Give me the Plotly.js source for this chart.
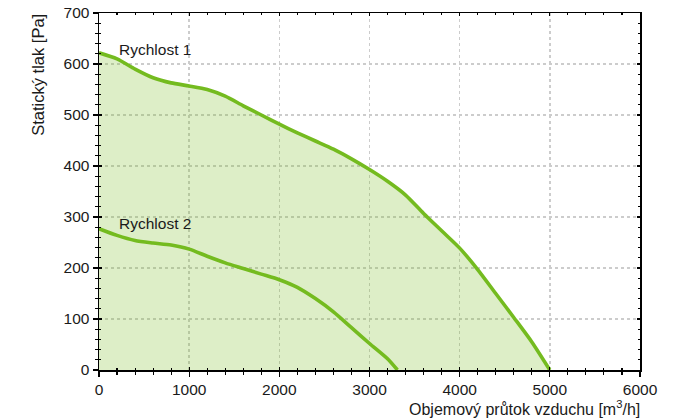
<!DOCTYPE html>
<html>
<head>
<meta charset="utf-8">
<script src="https://cdn.plot.ly/plotly-3.0.1.min.js"></script>
<style>body{margin:0;padding:0;background:#fff}#chart{width:684px;height:420px}</style>
</head>
<body>
<div id="chart"></div>
<script>
// Flow rate [m3/h]
const flow1 = [0,200,400,600,800,1000,1200,1400,1600,1800,2000,2200,2400,2600,2800,3000,3200,3400,3600,3800,4000,4200,4400,4600,4800,5000];
// Static pressure speed 1 [Pa]
const pressure1 = [622,610,590,573,563,557,550,537,518,500,482,465,449,433,414,393,370,343,307,273,239,197,150,103,55,0];
const flow2 = [0,200,400,600,800,1000,1200,1400,1600,1800,2000,2200,2400,2600,2800,3000,3200,3310];
// Static pressure speed 2 [Pa]
const pressure2 = [277,264,254,249,245,237,223,210,199,188,177,162,140,114,83,52,22,0];
const seriesNames = ["Rychlost 1","Rychlost 2"];
const xTicks = [0,1000,2000,3000,4000,5000,6000];
const yTicks = [0,100,200,300,400,500,600,700];

const lineColor = '#74bb1f';
const fontFam = 'Liberation Sans, Arial, sans-serif';
const txt = '#1a1a1a';

const traces = [
  {x: flow1, y: pressure1, type:'scatter', mode:'lines', name: seriesNames[0],
   line:{color: lineColor, width:3.6, shape:'spline', smoothing:0.7},
   fill:'tozeroy', fillcolor:'rgba(118,188,33,0.25)', hoverinfo:'skip'},
  {x: flow2, y: pressure2, type:'scatter', mode:'lines', name: seriesNames[1],
   line:{color: lineColor, width:3.6, shape:'spline', smoothing:0.7}, hoverinfo:'skip'}
];

const gridStyle = {showgrid:true, gridcolor:'#cccccc', gridwidth:1.5, griddash:'dot'};

const layout = {
  width:684, height:420,
  margin:{l:99, r:44, t:13, b:50},
  paper_bgcolor:'#fff', plot_bgcolor:'rgba(0,0,0,0)',
  showlegend:false,
  font:{family: fontFam, size:15, color: txt},
  xaxis: Object.assign({
    range:[0,6000], tickvals: xTicks, ticktext: xTicks.map(String),
    showline:true, linecolor:'#000', linewidth:1.5, mirror:false,
    ticks:'outside', ticklen:5, tickwidth:1.3, tickcolor:'#000',
    minor:{ticks:'outside', ticklen:3, tickwidth:1.1, tickcolor:'#000', dtick:200, tick0:0, showgrid:false},
    zeroline:false, tickfont:{size:15.5, color:txt, family:fontFam}, fixedrange:true
  }, gridStyle),
  yaxis: Object.assign({
    range:[0,700], tickvals: yTicks, ticktext: yTicks.map(String),
    showline:true, linecolor:'#000', linewidth:1.5, mirror:false,
    ticks:'outside', ticklen:5, tickwidth:1.3, tickcolor:'#000',
    minor:{ticks:'outside', ticklen:3, tickwidth:1.1, tickcolor:'#000', dtick:20, tick0:0, showgrid:false},
    zeroline:false, tickfont:{size:15.5, color:txt, family:fontFam}, fixedrange:true
  }, gridStyle),
  xaxis2: {
    overlaying:'x', anchor:'y', side:'bottom', range:[0,6000], dtick:1000, tick0:0,
    showline:true, linecolor:'#000', linewidth:1.5, mirror:'ticks',
    ticks:'inside', ticklen:3, tickwidth:1.3, tickcolor:'#000',
    minor:{ticks:'inside', ticklen:2, tickwidth:1.1, tickcolor:'#000', dtick:200, tick0:0, showgrid:false},
    showticklabels:false, showgrid:false, zeroline:false, fixedrange:true
  },
  yaxis2: {
    overlaying:'y', anchor:'x', side:'left', range:[0,700], dtick:100, tick0:0,
    showline:true, linecolor:'#000', linewidth:1.5, mirror:'ticks',
    ticks:'inside', ticklen:3, tickwidth:1.3, tickcolor:'#000',
    minor:{ticks:'inside', ticklen:2, tickwidth:1.1, tickcolor:'#000', dtick:20, tick0:0, showgrid:false},
    showticklabels:false, showgrid:false, zeroline:false, fixedrange:true
  },
  annotations:[
    {text: seriesNames[0], xref:'x', yref:'y', x:200, y:629, xanchor:'left', yanchor:'middle', showarrow:false, font:{size:15.5, color:txt}},
    {text: seriesNames[1], xref:'x', yref:'y', x:200, y:287, xanchor:'left', yanchor:'middle', showarrow:false, font:{size:15.5, color:txt}},
    {text:'Statický tlak [Pa]', xref:'paper', yref:'paper', x:-0.113, y:1.003, xanchor:'center', yanchor:'top', textangle:-90, showarrow:false, font:{size:16.5, color:txt}},
    {text:'Objemový průtok vzduchu [m<sup>3</sup>/h]', xref:'paper', yref:'paper', x:1.003, y:-0.072, xanchor:'right', yanchor:'top', showarrow:false, font:{size:16, color:txt}}
  ]
};

// dummy trace to activate the overlay axes that carry the mirrored inner ticks
traces.push({x:[null], y:[null], xaxis:'x2', yaxis:'y2', type:'scatter', mode:'lines', hoverinfo:'skip', showlegend:false});

Plotly.newPlot('chart', traces, layout, {displayModeBar:false, staticPlot:true});
</script>
</body>
</html>
